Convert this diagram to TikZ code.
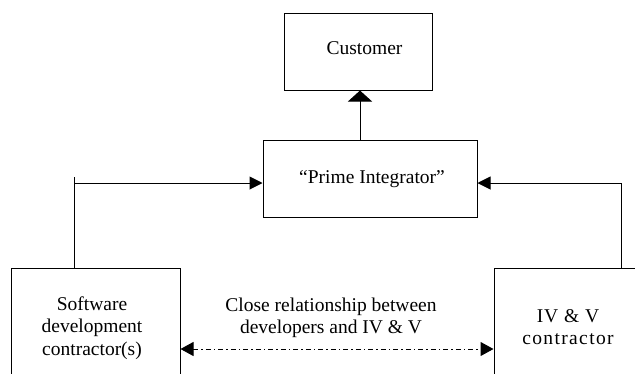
\documentclass[tikz,border=0pt]{standalone}
\usepackage{fontspec}
\setmainfont{Liberation Serif}
\usetikzlibrary{arrows.meta}
\tikzset{
  box/.style={draw, line width=1pt, inner sep=0pt, minimum width=#1},
  lbl/.style={font=\fontsize{19.5}{22.5}\selectfont, align=center, inner sep=0pt},
  conn/.style={line width=1pt},
  tip/.style={-{Triangle[length=13pt,width=13pt]}},
  dashdot/.style={line width=1pt, dash pattern=on 5pt off 3pt on 1.5pt off 3pt}
}
\begin{document}
\begin{tikzpicture}[x=1pt,y=-1pt]
\useasboundingbox (0,0) rectangle (635,373);
\clip (0,0) rectangle (635,373);
% boxes
\node[box=148pt, minimum height=77pt] (cu) at (358,51.5) {};
\node[box=214pt, minimum height=77pt] (pi) at (370,178.5) {};
\node[box=169pt, minimum height=132pt] (sw) at (95.5,334) {};
\node[box=186pt, minimum height=132pt] (iv) at (587,334) {};
% texts
\node[lbl] (cut) at (364.5,48.5) {Customer};
\node[lbl] (pit) at (372,179) {``Prime Integrator''};
\node[lbl] (swt) at (92,328) {Software\\development\\contractor(s)};
\node[lbl] (ivt) at (568,327) {\addfontfeatures{LetterSpace=5}IV \& V\\\addfontfeatures{LetterSpace=7}contractor};
\node[lbl] (clt) at (331,318) {Close relationship between\\developers and IV \& V};
% helper coordinates
\coordinate (ax) at (360,0);
\coordinate (lt) at (74,177);
\coordinate (lc) at (74,183);
\coordinate (rc) at (621,183);
\coordinate (dl) at (0,349);
% connectors
\draw[conn, -{Triangle[length=11pt,width=24pt]}] (pi.north -| ax) -- (cu.south -| ax);
\draw[conn] (sw.north -| lt) -- (lt);
\draw[conn, tip] (lc) -- (lc -| pi.west);
\draw[conn] (iv.north -| rc) -- (rc);
\draw[conn, tip] (rc) -- (rc -| pi.east);
\draw[dashdot, {Triangle[length=13pt,width=14pt]}-{Triangle[length=13pt,width=14pt]}] (sw.east |- dl) -- (iv.west |- dl);
\end{tikzpicture}
\end{document}
